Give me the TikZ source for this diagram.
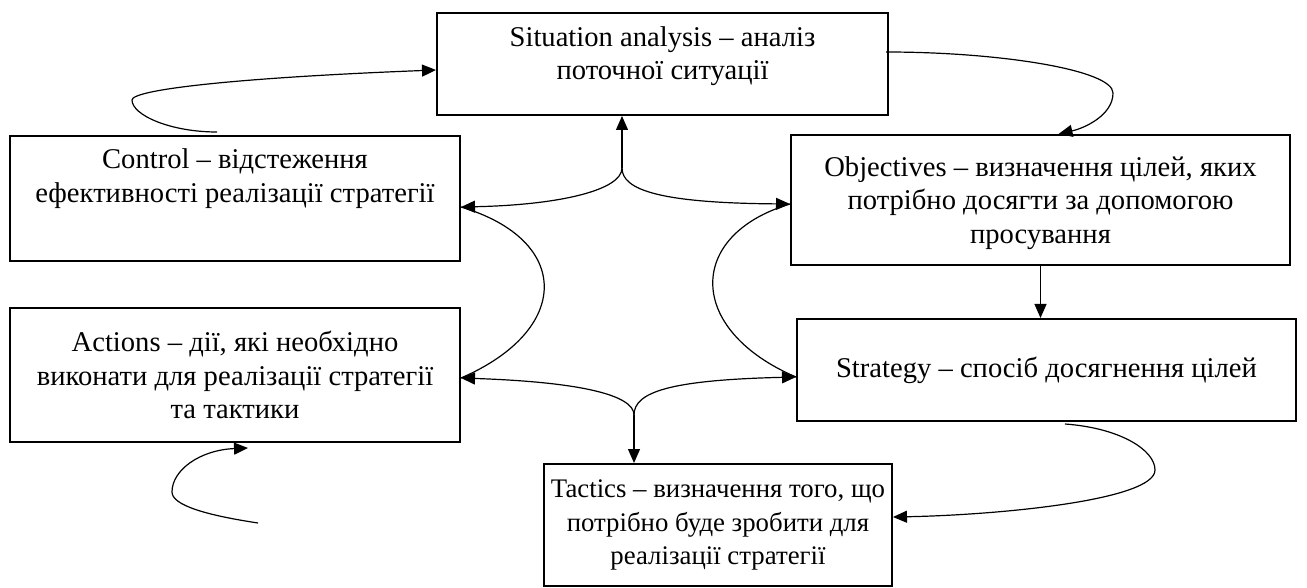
\documentclass[tikz,border=0pt]{standalone}
\usepackage{fontspec}
\setmainfont{Liberation Serif}
\usepackage{tikz}
\usetikzlibrary{arrows.meta,calc}

\begin{document}
\begin{tikzpicture}[x=0.5pt,y=0.5pt,yscale=-1,
  box/.style={draw, line width=1pt, align=center, inner sep=2pt,
    font=\fontsize{14.3pt}{16.6pt}\selectfont},
  arr/.style={line width=0.6pt, -{Triangle[length=7pt,width=6pt]}},
  ln/.style={line width=0.6pt}]
\useasboundingbox (0,0) rectangle (1307,588);

%Shape: Rectangle [sit]
\node[box, minimum width=225.5pt, minimum height=51pt, text depth=11pt] (sit) at (662.5,64)
  {Situation analysis – аналіз\\ поточної ситуації};
%Shape: Rectangle [ctrl]
\node[box, minimum width=225pt, minimum height=62.5pt, text depth=23pt] (ctrl) at (235,198.5)
  {Control – відстеження\\ ефективності реалізації стратегії};
%Shape: Rectangle [obj]
\node[box, minimum width=249.5pt, minimum height=65pt, text depth=0pt] (obj) at (1040.5,200)
  {Objectives – визначення цілей, яких\\ потрібно досягти за допомогою\\ просування};
%Shape: Rectangle [str]
\node[box, minimum width=249.5pt, minimum height=51pt] (str) at (1046.5,370)
  {Strategy – спосіб досягнення цілей};
%Shape: Rectangle [act]
\node[box, minimum width=225pt, minimum height=67pt] (act) at (235,375)
  {Actions – дії, які необхідно\\ виконати для реалізації стратегії\\ та тактики};
%Shape: Rectangle [tac]
\node[box, minimum width=174pt, minimum height=61pt,
  font=\fontsize{13.4pt}{16.6pt}\selectfont] (tac) at (718,525)
  {Tactics – визначення того, що\\ потрібно буде зробити для\\ реалізації стратегії};

% free ends and forks
\coordinate (ctrlout) at (217,132);
\coordinate (sitout) at (886,52);
\coordinate (strout) at (1065,424);
\coordinate (tacout) at (258,523);
\coordinate (topfork) at (622,168);
\coordinate (botfork) at (634,415);
\coordinate (ctrlin) at ($(ctrl.east)+(0,8.5)$);
\coordinate (objin) at ($(obj.west)+(0,4)$);
\coordinate (actin) at ($(act.east)+(0,3)$);
\coordinate (strin) at ($(str.west)+(0,7)$);

%Curve Lines [outer loops]
\draw[arr] (ctrlout) .. controls (170,132) and (132,115) .. (132,100)
  .. controls (132,90) and (230,78) .. ($(sit.west)+(0,6)$);
\draw[arr] (sitout) .. controls (1000,52) and (1113,70) .. (1113,93)
  .. controls (1113,115) and (1085,128) .. ($(obj.north)+(18,0)$);
\draw[arr] (strout) .. controls (1120,428) and (1155,450) .. (1155,470)
  .. controls (1155,500) and (1000,515) .. ($(tac.east)+(0,-8)$);
\draw[arr] (tacout) .. controls (205,515) and (172,505) .. (172,492)
  .. controls (172,470) and (200,450) .. ($(act.south)+(13,5)$);

%Straight Lines
\draw[arr] (obj.south) -- (obj.south |- str.north);
\draw[arr] (topfork) -- (topfork |- sit.south);
\draw[arr] (botfork) -- (botfork |- tac.north);

%Curve Lines [centre star]
\draw[arr] (topfork) .. controls (622,190) and (560,205) .. (ctrlin);
\draw[arr] (topfork) .. controls (622,190) and (660,203) .. (objin);
\draw[arr] (botfork) .. controls (634,395) and (580,382) .. (actin);
\draw[arr] (botfork) .. controls (634,392) and (670,380) .. (strin);
\draw[ln] (ctrlin) .. controls (572,240) and (572,330) .. (actin);
\draw[ln] (objin) .. controls (686,235) and (686,330) .. (strin);

\end{tikzpicture}
\end{document}
